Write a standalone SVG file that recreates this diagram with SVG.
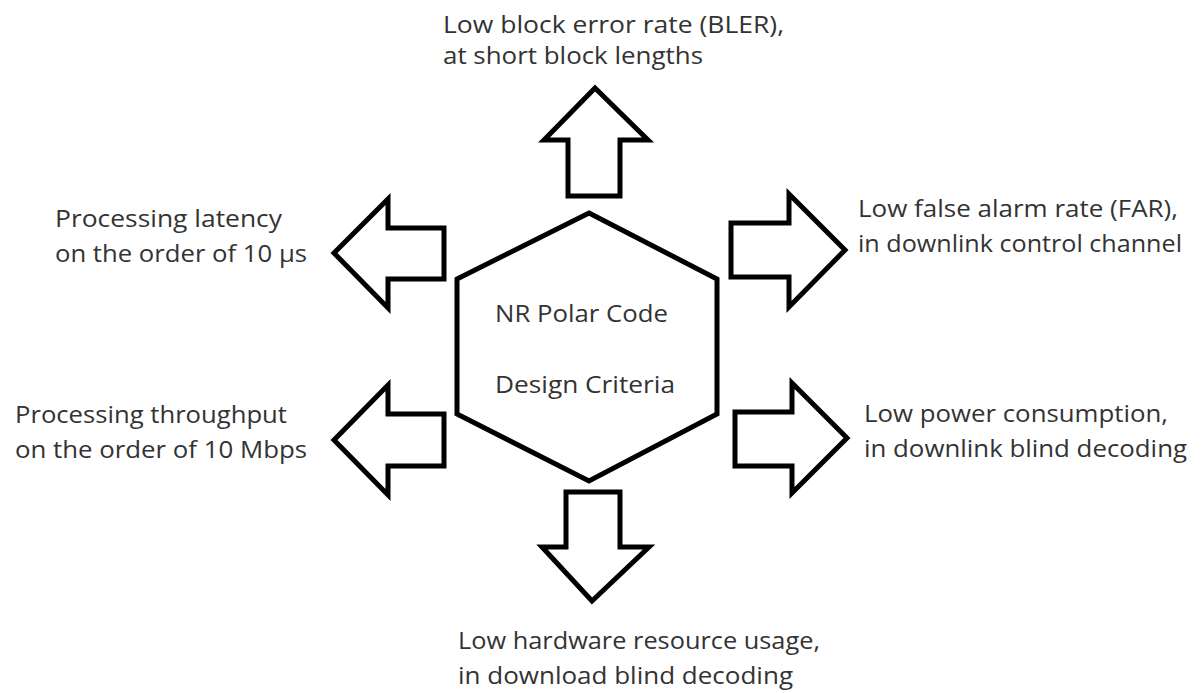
<svg xmlns="http://www.w3.org/2000/svg" width="1201" height="693" viewBox="0 0 1201 693">
  <style>
    .shape { fill: #ffffff; stroke: #000000; stroke-width: 5; stroke-linejoin: miter; }
    .label { font-family: "Open Sans", "Noto Sans", "DejaVu Sans", sans-serif; font-size: 23px; fill: #333333; }
  </style>
  <rect width="1201" height="693" fill="#ffffff"/>

  <!-- central hexagon -->
  <g id="hub">
    <polygon class="shape" points="589,213 717,279 717,414 589,481 457,414 457,279"/>
    <text class="label" x="495" y="322" textLength="173" lengthAdjust="spacingAndGlyphs">NR Polar Code</text>
    <text class="label" x="495" y="393" textLength="180" lengthAdjust="spacingAndGlyphs">Design Criteria</text>
  </g>

  <!-- outward block arrows -->
  <g id="connectors">
    <polygon class="shape" points="595,88 648,140 620,140 620,196 568,196 568,140 544,140"/>
    <polygon class="shape" points="592,601 649,547 620,547 620,492 566,492 566,547 542,547"/>
    <polygon class="shape" points="334,253 388,199 388,228 444,228 444,279 388,279 388,308"/>
    <polygon class="shape" points="334,440 388,385 388,414 444,414 444,466 388,466 388,495"/>
    <polygon class="shape" points="845,250 789,194 789,223 731,223 731,277 789,277 789,307"/>
    <polygon class="shape" points="847,438 792,383 792,412 735,412 735,466 792,466 792,493"/>
  </g>

  <g id="bler">
    <text class="label" x="443" y="33" textLength="341" lengthAdjust="spacingAndGlyphs">Low block error rate (BLER),</text>
    <text class="label" x="443" y="64" textLength="260" lengthAdjust="spacingAndGlyphs">at short block lengths</text>
  </g>

  <g id="latency">
    <text class="label" x="55" y="227" textLength="227" lengthAdjust="spacingAndGlyphs">Processing latency</text>
    <text class="label" x="55" y="262" textLength="252" lengthAdjust="spacingAndGlyphs">on the order of 10 μs</text>
  </g>

  <g id="far">
    <text class="label" x="858" y="217" textLength="320" lengthAdjust="spacingAndGlyphs">Low false alarm rate (FAR),</text>
    <text class="label" x="858" y="252" textLength="324" lengthAdjust="spacingAndGlyphs">in downlink control channel</text>
  </g>

  <g id="throughput">
    <text class="label" x="15" y="423" textLength="272" lengthAdjust="spacingAndGlyphs">Processing throughput</text>
    <text class="label" x="15" y="458" textLength="292" lengthAdjust="spacingAndGlyphs">on the order of 10 Mbps</text>
  </g>

  <g id="power">
    <text class="label" x="864" y="422" textLength="304" lengthAdjust="spacingAndGlyphs">Low power consumption,</text>
    <text class="label" x="864" y="457" textLength="323" lengthAdjust="spacingAndGlyphs">in downlink blind decoding</text>
  </g>

  <g id="hardware">
    <text class="label" x="458" y="649" textLength="362" lengthAdjust="spacingAndGlyphs">Low hardware resource usage,</text>
    <text class="label" x="458" y="684" textLength="335" lengthAdjust="spacingAndGlyphs">in download blind decoding</text>
  </g>
</svg>
